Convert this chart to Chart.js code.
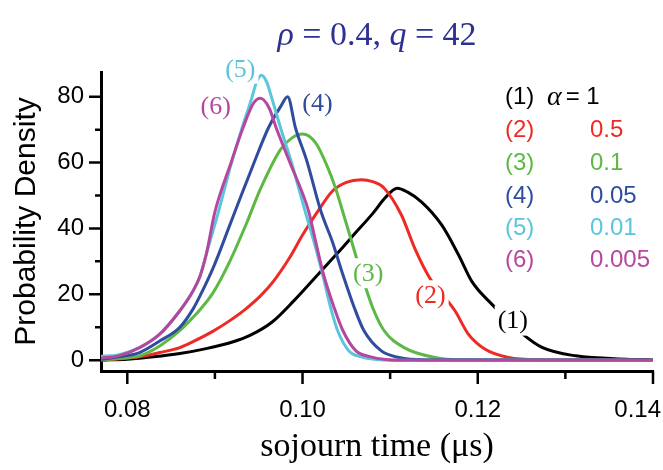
<!DOCTYPE html>
<html><head><meta charset="utf-8">
<title>sojourn time density</title>
<script src="https://cdn.jsdelivr.net/npm/chart.js@4"></script>
<style>
  html, body { margin: 0; padding: 0; background: #fff; }
  #wrap { width: 663px; height: 470px; }
</style></head>
<body>
<div id="wrap"><canvas id="grafico" width="663" height="470"></canvas></div>
<script>
// --- DADOS ---
// (1) alpha = 1
const x1 = [0.077, 0.08, 0.083, 0.086, 0.089, 0.092, 0.094, 0.0965, 0.099, 0.1021, 0.104, 0.106, 0.108, 0.1095, 0.1108, 0.112, 0.1136, 0.1159, 0.1178, 0.1193, 0.1216, 0.1251, 0.1274, 0.1312, 0.137, 0.14];
const y1 = [0, 0.3, 1, 2, 3.5, 5.5, 7.5, 11.5, 18, 27, 32.5, 38.5, 44.5, 49.5, 52.2, 51, 48, 41, 32, 24, 17, 8, 3.8, 1.3, 0.3, 0.1];
// (2) alpha = 0.5
const x2 = [0.077, 0.0791, 0.0814, 0.0837, 0.086, 0.0875, 0.0898, 0.0917, 0.0935, 0.0952, 0.0967, 0.0985, 0.1, 0.1017, 0.1034, 0.105, 0.1067, 0.108, 0.1093, 0.1113, 0.1128, 0.1145, 0.1174, 0.1189, 0.1208, 0.1235, 0.127, 0.14];
const y2 = [0, 0.4, 1, 2.3, 3.8, 5.6, 8.8, 12, 15.5, 19.5, 24, 31, 38, 45, 51.3, 54, 54.8, 54.2, 52.3, 44, 34, 25, 15, 8, 3.4, 0.8, 0.1, 0];
// (3) alpha = 0.1
const x3 = [0.077, 0.0791, 0.0814, 0.0837, 0.086, 0.0875, 0.0883, 0.0898, 0.0917, 0.0936, 0.0952, 0.0975, 0.0988, 0.1, 0.1015, 0.1028, 0.1038, 0.1046, 0.1055, 0.1065, 0.108, 0.1093, 0.1116, 0.1151, 0.118, 0.14];
const y3 = [0.1, 0.5, 1.3, 4.3, 9, 13, 15.3, 20.5, 30, 41.5, 52, 64, 67.5, 68.7, 66, 59, 52, 45, 37, 28, 16, 9, 3.8, 0.8, 0.1, 0];
// (4) alpha = 0.05
const x4 = [0.077, 0.0791, 0.0814, 0.0837, 0.086, 0.0875, 0.0883, 0.0898, 0.0917, 0.093, 0.0944, 0.0961, 0.0975, 0.0983, 0.0992, 0.1005, 0.1021, 0.1034, 0.1046, 0.1059, 0.107, 0.109, 0.111, 0.114, 0.14];
const y4 = [0.3, 1, 2.3, 5.8, 10, 15.5, 19.5, 28, 41, 50, 59.5, 70.5, 77, 80, 70.5, 60.4, 45.2, 36, 26, 16, 9, 2.8, 0.8, 0.1, 0];
// (5) alpha = 0.01
const x5 = [0.077, 0.079, 0.0814, 0.0837, 0.086, 0.0875, 0.0883, 0.089, 0.0904, 0.0919, 0.0931, 0.0942, 0.0947, 0.0953, 0.0959, 0.0965, 0.0975, 0.0987, 0.1003, 0.1013, 0.1023, 0.1032, 0.104, 0.1053, 0.1067, 0.1085, 0.11, 0.14];
const y5 = [1.2, 1.6, 3.8, 7.9, 15, 21, 25.5, 32, 45, 60, 70.5, 79.5, 84, 86.5, 84.5, 79.5, 70.5, 60.4, 45.2, 36, 26, 16, 9, 2.8, 1, 0.2, 0, 0];
// (6) alpha = 0.005
const x6 = [0.077, 0.079, 0.0814, 0.0837, 0.086, 0.0875, 0.0883, 0.089, 0.09, 0.0919, 0.0932, 0.0944, 0.0952, 0.0962, 0.097, 0.0985, 0.1007, 0.1015, 0.1024, 0.1036, 0.1046, 0.1061, 0.1078, 0.1095, 0.111, 0.14];
const y6 = [0.6, 1.3, 3.8, 7.9, 15, 21, 25.5, 32, 45, 60.4, 70.5, 78, 79.5, 76.5, 70.5, 60.4, 45.2, 36, 26, 16, 9, 2.8, 1, 0.2, 0, 0];

const serieNomes = ['(1)', '(2)', '(3)', '(4)', '(5)', '(6)'];
const alphas = ['1', '0.5', '0.1', '0.05', '0.01', '0.005'];
const xMajor = [0.08, 0.10, 0.12, 0.14];
const xMinor = [0.09, 0.11, 0.13];
const yMajor = [0, 20, 40, 60, 80];
const yMinor = [10, 30, 50, 70];

// --- ESTILO ---
const cores = ['#000000', '#ee2a24', '#5cb944', '#2f4c9f', '#5bc5dc', '#b5489e'];
const SANS = '"Liberation Sans", Arial, sans-serif';
const SERIF = '"Liberation Serif", "Times New Roman", serif';
const tituloCor = '#2e3192';

// rotulos das curvas (posicao em coordenadas de dados)
const rotulos = [
    { s: 0, x: 0.1240, y: 12 },
    { s: 1, x: 0.1146, y: 19.7 },
    { s: 2, x: 0.1075, y: 26.4 },
    { s: 3, x: 0.1017, y: 78 },
    { s: 4, x: 0.0929, y: 88.5 },
    { s: 5, x: 0.0901, y: 77 }
];
// legenda no canto (coordenadas de dados)
const legX = 0.1231, legValX = 0.1328, legAlphaX = 0.1279;
const legY = [79.7, 69.7, 59.7, 49.7, 40, 30.3];

const xs = [x1, x2, x3, x4, x5, x6];
const ys = [y1, y2, y3, y4, y5, y6];

const datasets = xs.map((xv, i) => ({
    label: serieNomes[i],
    data: xv.map((x, k) => ({ x: x, y: ys[i][k] })),
    borderColor: cores[i],
    borderWidth: 3,
    pointRadius: 0,
    fill: false,
    cubicInterpolationMode: 'monotone',
    order: 6 - i
}));

// ticks, titulo, rotulos e legenda desenhados a mao
const extras = {
    id: 'extras',
    afterDatasetsDraw(chart) {
        const ctx = chart.ctx;
        const sx = chart.scales.x, sy = chart.scales.y;
        ctx.save();
        // rotulos com fundo branco (abre a linha)
        ctx.font = '26px ' + SERIF;
        ctx.textAlign = 'center';
        ctx.textBaseline = 'middle';
        rotulos.forEach(r => {
            const px = sx.getPixelForValue(r.x), py = sy.getPixelForValue(r.y);
            const w = ctx.measureText(serieNomes[r.s]).width;
            ctx.fillStyle = '#fff';
            ctx.fillRect(px - w / 2 - 3, py - 15, w + 6, 30);
            ctx.fillStyle = cores[r.s];
            ctx.fillText(serieNomes[r.s], px, py + 1);
        });
        ctx.restore();
    },
    afterDraw(chart) {
        const ctx = chart.ctx;
        const sx = chart.scales.x, sy = chart.scales.y;
        const ca = chart.chartArea;
        ctx.save();
        ctx.strokeStyle = '#000';
        ctx.lineWidth = 2.5;
        ctx.beginPath();
        xMajor.forEach(v => { const p = sx.getPixelForValue(v); ctx.moveTo(p, ca.bottom); ctx.lineTo(p, ca.bottom + 13); });
        xMinor.forEach(v => { const p = sx.getPixelForValue(v); ctx.moveTo(p, ca.bottom); ctx.lineTo(p, ca.bottom + 8); });
        yMajor.forEach(v => { const p = sy.getPixelForValue(v); ctx.moveTo(ca.left, p); ctx.lineTo(ca.left - 12, p); });
        yMinor.forEach(v => { const p = sy.getPixelForValue(v); ctx.moveTo(ca.left, p); ctx.lineTo(ca.left - 6, p); });
        ctx.stroke();

        // rotulos do eixo x (o ultimo fica dentro da tela)
        ctx.fillStyle = '#000';
        ctx.font = '24px ' + SANS;
        ctx.textBaseline = 'middle';
        xMajor.forEach(v => {
            const t = v.toFixed(2);
            const w = ctx.measureText(t).width;
            let px = sx.getPixelForValue(v) - w / 2;
            px = Math.min(px, chart.width - w - 2);
            ctx.textAlign = 'left';
            ctx.fillText(t, px, ca.bottom + 39);
        });

        // titulo: rho = 0.4, q = 42
        const partes = [['ρ', true], [' = 0.4, ', false], ['q', true], [' = 42', false]];
        ctx.fillStyle = tituloCor;
        ctx.textAlign = 'left';
        let total = 0;
        partes.forEach(p => { ctx.font = (p[1] ? 'italic ' : '') + '34px ' + SERIF; total += ctx.measureText(p[0]).width; });
        let cx = (ca.left + ca.right) / 2 - total / 2;
        partes.forEach(p => {
            ctx.font = (p[1] ? 'italic ' : '') + '34px ' + SERIF;
            ctx.fillText(p[0], cx, 36);
            cx += ctx.measureText(p[0]).width;
        });

        // legenda
        legY.forEach((yv, i) => {
            const py = sy.getPixelForValue(yv);
            ctx.fillStyle = cores[i];
            ctx.font = '24px ' + SANS;
            ctx.fillText(serieNomes[i], sx.getPixelForValue(legX), py);
            if (i === 0) {
                let ax = sx.getPixelForValue(legAlphaX);
                ctx.font = 'italic 28px ' + SERIF;
                ctx.fillText('α', ax, py);
                ax += ctx.measureText('α').width + 4;
                ctx.font = '24px ' + SANS;
                ctx.fillText('= 1', ax, py);
            } else {
                ctx.fillText(alphas[i], sx.getPixelForValue(legValX), py);
            }
        });
        ctx.restore();
    }
};

new Chart(document.getElementById('grafico').getContext('2d'), {
    type: 'line',
    data: { datasets: datasets },
    options: {
        responsive: false,
        animation: false,
        layout: { padding: { top: 72, right: 10, left: 0, bottom: 0 } },
        plugins: { legend: { display: false }, tooltip: { enabled: false } },
        scales: {
            x: {
                type: 'linear',
                min: 0.077, max: 0.14,
                afterFit: s => { s.height = 99; },
                grid: { display: false, drawTicks: false },
                border: { display: true, color: '#000', width: 3 },
                ticks: { display: false },
                title: { display: true, text: 'sojourn time (μs)', color: '#000',
                         font: { family: SERIF, size: 34, lineHeight: 1.2 }, padding: { bottom: 3, top: 0 } }
            },
            y: {
                min: -3.3, max: 87.5,
                afterFit: s => { s.width = 101; },
                afterBuildTicks: s => { s.ticks = yMajor.concat(yMinor).map(v => ({ value: v })); },
                grid: { display: false, drawTicks: false },
                border: { display: true, color: '#000', width: 3 },
                ticks: {
                    color: '#000', padding: 17, autoSkip: false,
                    font: { family: SANS, size: 24 },
                    callback: v => yMajor.includes(v) ? String(v) : ''
                },
                title: { display: true, text: 'Probability Density', color: '#000',
                         font: { family: SANS, size: 30, lineHeight: 1.2 }, padding: { top: 9, bottom: 0 } }
            }
        }
    },
    plugins: [extras]
});
</script>
</body></html>
